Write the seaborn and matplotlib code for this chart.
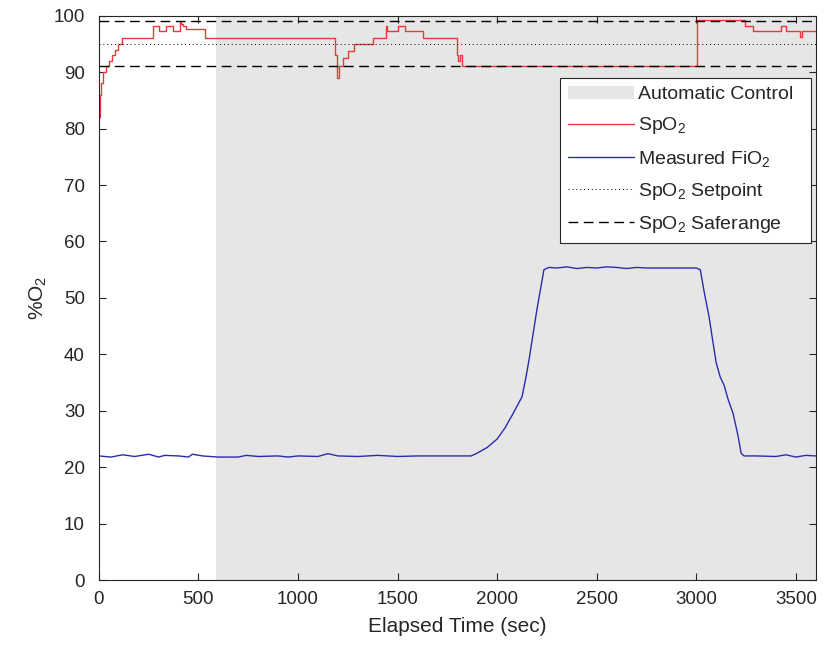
import matplotlib
matplotlib.use("Agg")
import matplotlib.pyplot as plt
from matplotlib.lines import Line2D
from matplotlib.patches import Patch
import seaborn as sns

# SpO2 readings (step changes), seconds / %
spo2_time = [0, 5, 10, 20, 35, 50, 65, 80, 95, 116,
             272, 300, 335, 372, 405, 412, 420, 440, 535,
             1188, 1195, 1205, 1225, 1250, 1282, 1377, 1440, 1448, 1500, 1535, 1630,
             1796, 1805, 1812, 1821,
             3005, 3244, 3285, 3425, 3450, 3520, 3530, 3600]
spo2_val = [82, 86, 88, 90, 91, 92, 93, 94, 95, 96,
            98.2, 97.3, 98.2, 97.3, 99, 98.6, 98.2, 97.6, 96,
            93, 89, 91, 92.5, 93.7, 95, 96, 98.2, 97.2, 98.2, 97.3, 96,
            93, 92, 93, 91,
            99.2, 98.2, 97.2, 98.2, 97.2, 96.2, 97.2, 97.2]

# measured FiO2
fio2_time = [0, 60, 120, 180, 250, 300, 330, 400, 450, 470, 520, 600, 700, 740, 800,
             900, 950, 1000, 1100, 1150, 1200, 1300, 1400, 1500, 1600, 1700, 1800,
             1870, 1900, 1950, 2000, 2040, 2080, 2110, 2125, 2145, 2160, 2180, 2200,
             2220, 2235, 2260, 2300, 2350, 2400, 2450, 2500, 2550, 2600, 2650, 2700,
             2750, 2800, 2900, 3000, 3020, 3040, 3065, 3080, 3100, 3120, 3140, 3160,
             3185, 3210, 3225, 3240, 3300, 3400, 3450, 3500, 3550, 3600]
fio2_val = [22.0, 21.8, 22.2, 21.9, 22.3, 21.8, 22.1, 22.0, 21.8, 22.3, 22.0, 21.8, 21.8, 22.1, 21.9,
            22.0, 21.8, 22.0, 21.9, 22.4, 22.0, 21.9, 22.1, 21.9, 22.0, 22.0, 22.0,
            22.0, 22.5, 23.5, 25.0, 27.0, 29.5, 31.5, 32.5, 36.0, 39.0, 43.5, 48.0,
            52.0, 55.0, 55.4, 55.3, 55.5, 55.2, 55.4, 55.3, 55.5, 55.4, 55.2, 55.4,
            55.3, 55.3, 55.3, 55.3, 55.0, 51.0, 46.5, 43.0, 38.5, 36.0, 34.5, 32.0,
            29.5, 25.5, 22.5, 22.0, 22.0, 21.9, 22.2, 21.8, 22.1, 22.0]

auto_start = 590
auto_end = 3600
setpoint = 95
safe_low, safe_high = 91, 99

sns.set_style("ticks")
plt.rcParams["font.family"] = ["Liberation Sans", "DejaVu Sans"]
plt.rcParams["mathtext.default"] = "regular"
plt.rcParams["xtick.direction"] = "in"
plt.rcParams["ytick.direction"] = "in"

fig = plt.figure(figsize=(8.24, 6.54), dpi=100)
ax = fig.add_axes([0.120, 0.113, 0.870, 0.863])

ax.axvspan(auto_start, auto_end, color="#e6e6e6", lw=0, zorder=0)
sns.lineplot(x=spo2_time, y=spo2_val, ax=ax, color="#e8393c", lw=1.0,
             drawstyle="steps-post", estimator=None, sort=False)
sns.lineplot(x=fio2_time, y=fio2_val, ax=ax, color="#2b2bb0", lw=1.0,
             estimator=None, sort=False)
ax.axhline(setpoint, color="black", ls=(0, (1, 3)), lw=0.7)
ax.axhline(safe_low, color="black", ls=(0, (7, 4)), lw=1.0)
ax.axhline(safe_high, color="black", ls=(0, (7, 4)), lw=1.0)

ax.set_xlim(0, 3600)
ax.set_ylim(0, 100)
ax.set_xticks(range(0, 3501, 500))
ax.set_yticks(range(0, 101, 10))
ax.tick_params(top=True, right=True, labelsize=13.5, length=5, width=0.8,
               colors="#262626")
ax.tick_params(axis="y", pad=10)
ax.tick_params(axis="x", pad=8)
for s in ax.spines.values():
    s.set_color("#262626")
    s.set_linewidth(0.8)
ax.set_xlabel("Elapsed Time (sec)", fontsize=15, color="#262626", labelpad=6)
ax.set_ylabel("%O$_2$", fontsize=15, color="#262626", labelpad=3)

handles = [Patch(facecolor="#e6e6e6", edgecolor="none"),
           Line2D([], [], color="#e8393c", lw=1.0),
           Line2D([], [], color="#2b2bb0", lw=1.0),
           Line2D([], [], color="black", ls=(0, (1, 3)), lw=0.7),
           Line2D([], [], color="black", ls=(0, (7, 4)), lw=1.0)]
labels = ["Automatic Control", "SpO$_2$", "Measured FiO$_2$",
          "SpO$_2$ Setpoint", "SpO$_2$ Saferange"]
leg = ax.legend(handles, labels, loc="upper right",
                bbox_to_anchor=(0.643, 0.5, 0.351, 0.39), mode="expand",
                borderaxespad=0, fontsize=14, fancybox=False, framealpha=1,
                edgecolor="#262626", handlelength=3.4, handletextpad=0.2,
                labelspacing=0.63, borderpad=0.4)
leg.get_frame().set_linewidth(0.8)

fig.savefig("out.png", dpi=100)
